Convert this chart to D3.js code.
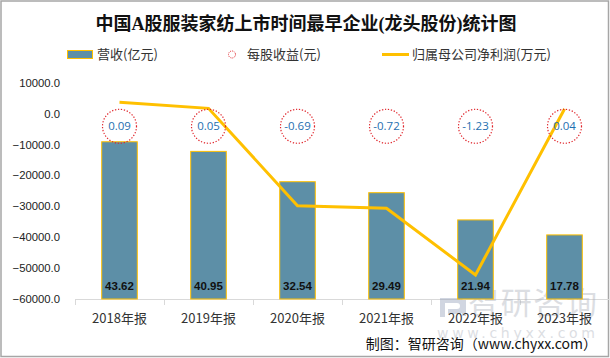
<!DOCTYPE html>
<html>
<head>
<meta charset="utf-8">
<script src="https://cdn.jsdelivr.net/npm/d3@7"></script>
<style>
html,body{margin:0;padding:0;background:#fff;}
svg{display:block;}
</style>
</head>
<body>
<svg id="chart" width="610" height="358"></svg>
<script>
// ---- data ----
const categories = ["2018年报","2019年报","2020年报","2021年报","2022年报","2023年报"];
const revenue = [43.62, 40.95, 32.54, 29.49, 21.94, 17.78];          // 营收(亿元)
const eps = ["0.09","0.05","-0.69","-0.72","-1.23","0.04"];           // 每股收益(元)
const netProfit = [3650, 1700, -29800, -30650, -52230, 1490];        // 归属母公司净利润(万元)
const yTicks = [10000, 0, -10000, -20000, -30000, -40000, -50000, -60000];

const svg = d3.select("#chart");
const FONT = "'Noto Sans CJK SC','Noto Sans',sans-serif";
const BLUE = "#5d8fa7", ORANGE = "#ffc000";

// border
svg.append("rect").attr("x",1).attr("y",1).attr("width",607.5).attr("height",355.5)
  .attr("fill","#fff").attr("stroke","#a6a6a6").attr("stroke-width",1.5);

// title
svg.append("text").attr("x",306).attr("y",30).attr("text-anchor","middle")
  .attr("font-family","'Liberation Serif','DejaVu Serif','Noto Sans CJK SC',serif")
  .attr("font-weight","bold").attr("font-size",18).attr("fill","#111")
  .text("中国A股服装家纺上市时间最早企业(龙头股份)统计图");

// scales
const x = d3.scaleBand().domain(categories).range([75, 609]).paddingInner(0).paddingOuter(0);
const yL = d3.scaleLinear().domain([-60000, 10000]).range([299, 82.7]);
const yR = d3.scaleLinear().domain([0, 60]).range([299, 82.7]);
const bw = x.bandwidth() * 0.4;

// y axis labels
svg.append("g").selectAll("text").data(yTicks).join("text")
  .attr("x",60).attr("y",d=>yL(d)+4).attr("text-anchor","end")
  .attr("font-family","'Liberation Sans','Open Sans',sans-serif").attr("font-size",11.3)
  .attr("fill","#222").text(d=>d3.format(".1f")(d));

// x axis
const xAxis = svg.append("g").attr("transform","translate(0,299)")
  .call(d3.axisBottom(x).tickSize(0).tickPadding(0));
xAxis.select(".domain").attr("stroke","#d9d9d9");
xAxis.selectAll(".tick text").remove();
svg.append("g").selectAll("line").data(categories).join("line")
  .attr("x1",d=>x(d)+0.5).attr("x2",d=>x(d)+0.5).attr("y1",299).attr("y2",305)
  .attr("stroke","#d9d9d9");

// watermark (behind texts)
const wm = svg.append("g").attr("opacity",0.4);
wm.append("path").attr("d","M440,298 h18 a8,8 0 0 1 0,16 h-10 v-5 h9 a3,3 0 0 0 0,-6 h-12 v14 h-5 z M462,300 h4 v16 h-4 z")
  .attr("fill","#8d9ab5");
wm.append("text").attr("x",468).attr("y",314).attr("font-family",FONT).attr("font-size",31)
  .attr("fill","#a9aeb9").attr("textLength",129).text("智研咨询");
wm.append("text").attr("x",437).attr("y",338).attr("font-family","'DejaVu Sans',sans-serif").attr("font-size",14)
  .attr("fill","#a9aeb9").attr("textLength",158).text("www.chyxx.com");

svg.append("g").selectAll("text").data(categories).join("text")
  .attr("x",d=>x(d)+x.bandwidth()/2).attr("y",323).attr("text-anchor","middle")
  .attr("font-family",FONT).attr("font-size",13).attr("fill","#333").text(d=>d);

// bars
const cats = categories.map((c,i)=>({c, v:revenue[i], p:netProfit[i], e:eps[i]}));
svg.append("g").selectAll("rect").data(cats).join("rect")
  .attr("x",d=>x(d.c)+x.bandwidth()/2-bw/2).attr("width",bw)
  .attr("y",d=>yR(d.v)).attr("height",d=>yR(0)-yR(d.v))
  .attr("fill",BLUE).attr("stroke",ORANGE).attr("stroke-width",1);
svg.append("g").selectAll("text").data(cats).join("text")
  .attr("x",d=>x(d.c)+x.bandwidth()/2).attr("y",290).attr("text-anchor","middle")
  .attr("font-family","'Liberation Sans',sans-serif").attr("font-weight","bold").attr("font-size",11.5)
  .attr("fill","#111").text(d=>d.v.toFixed(2));

// line
const line = d3.line().x(d=>x(d.c)+x.bandwidth()/2).y(d=>yL(d.p));
svg.append("path").datum(cats).attr("d",line).attr("fill","none")
  .attr("stroke",ORANGE).attr("stroke-width",3).attr("stroke-linejoin","miter");

// EPS circles
const epsY = yL(-4100);
const eg = svg.append("g").selectAll("g").data(cats).join("g")
  .attr("transform",d=>`translate(${x(d.c)+x.bandwidth()/2},${epsY})`);
eg.append("circle").attr("r",17).attr("fill","none").attr("stroke","#e0262c")
  .attr("stroke-width",1.2).attr("stroke-dasharray","1.3,1.7");
eg.append("text").attr("y",4).attr("text-anchor","middle")
  .attr("font-family","'Open Sans','Liberation Sans',sans-serif").attr("font-size",11.5)
  .attr("fill","#1f6fb0").text(d=>d.e);

// legend
const lg = svg.append("g");
lg.append("rect").attr("x",67.5).attr("y",50.5).attr("width",25).attr("height",8)
  .attr("fill",BLUE).attr("stroke",ORANGE).attr("stroke-width",1);
lg.append("text").attr("x",97).attr("y",59).attr("font-family",FONT).attr("font-size",13).attr("fill","#333").text("营收(亿元)");
lg.append("circle").attr("cx",232).attr("cy",54.5).attr("r",3.5).attr("fill","none")
  .attr("stroke","#e0262c").attr("stroke-width",1).attr("stroke-dasharray","1,1");
lg.append("text").attr("x",247).attr("y",59).attr("font-family",FONT).attr("font-size",13).attr("fill","#333").text("每股收益(元)");
lg.append("line").attr("x1",382).attr("x2",409).attr("y1",54.5).attr("y2",54.5)
  .attr("stroke",ORANGE).attr("stroke-width",3);
lg.append("text").attr("x",412).attr("y",59).attr("font-family",FONT).attr("font-size",13).attr("fill","#333").text("归属母公司净利润(万元)");

// footer
svg.append("text").attr("x",597).attr("y",349).attr("text-anchor","end")
  .attr("font-family",FONT).attr("font-size",14).attr("fill","#111")
  .text("制图：智研咨询（www.chyxx.com）");
</script>
</body>
</html>
